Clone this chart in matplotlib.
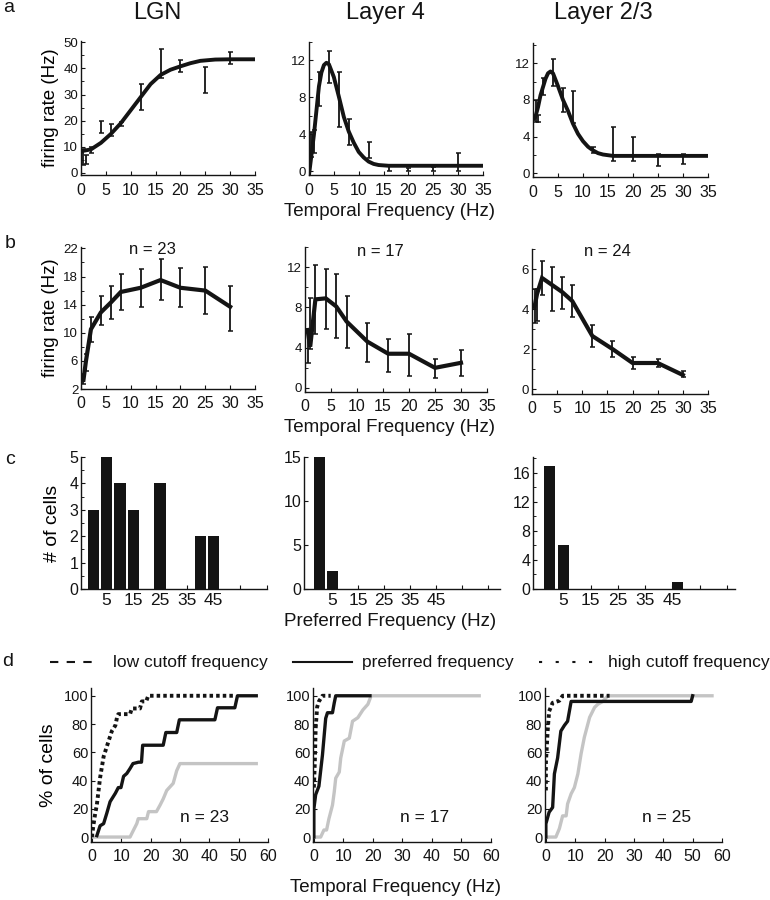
import numpy as np
import matplotlib
matplotlib.use("Agg")
import matplotlib.pyplot as plt
from matplotlib.lines import Line2D
from matplotlib.ticker import AutoMinorLocator

plt.rcParams['font.family'] = ['Liberation Sans', 'DejaVu Sans']

W, H = 770, 900
K = '#141414'
GRAY = '#c4c4c4'

# ---------------- data ----------------
areas = ['LGN', 'Layer 4', 'Layer 2/3']
freqs = [0.5, 1, 2, 4, 6, 8, 12, 16, 20, 25, 30]

# row a : fitted tuning curves of example cells
lgn_fit_x = [0, 2, 4, 6, 8, 10, 12, 14, 16, 18, 20, 22, 24, 27, 30, 35]
lgn_fit_y = [8.3, 9.0, 11.5, 14.9, 19.0, 24.0, 29.0, 34.0, 37.5, 39.5, 40.8, 42.0, 42.9, 43.4, 43.5, 43.5]
l4_fit_x = [0, 0.5, 1, 1.5, 2, 2.5, 3, 3.5, 4, 5, 6, 7, 8, 9, 10, 11, 12, 13, 14, 16, 35]
l4_fit_y = [-0.4, 1.8, 4.0, 6.6, 9.2, 10.7, 11.5, 11.75, 11.6, 10.2, 8.1, 5.9, 4.3, 3.1, 2.1, 1.5, 1.05, 0.8, 0.68, 0.6, 0.6]
l23_fit_x = [0, 0.5, 1, 1.5, 2, 2.5, 3, 3.5, 4, 5, 6, 7, 8, 9, 10, 11, 12, 13, 14, 16, 35]
l23_fit_y = [5.8, 6.2, 7.2, 8.5, 9.4, 10.3, 10.9, 11.1, 10.9, 9.5, 8.0, 6.8, 5.4, 4.3, 3.5, 2.9, 2.5, 2.2, 2.05, 1.9, 1.9]

lgn_a_lo = [3.0, 3.5, 7.8, 15.4, 14.3, 18.1, 24.1, 36.2, 38.8, 30.7, 41.6]
lgn_a_hi = [9.0, 7.0, 10.0, 20.0, 18.7, 19.6, 33.9, 47.4, 43.1, 40.7, 46.2]
l4_a_lo = [1.5, 2.0, 7.1, 9.6, 4.8, 2.8, 1.4, 0.0, 0.0, 0.0, 0.0]
l4_a_hi = [4.3, 4.5, 10.8, 13.0, 10.7, 5.7, 3.2, 0.6, 0.4, 0.5, 2.0]
l23_a_lo = [5.6, 5.6, 8.5, 9.5, 6.7, 5.5, 2.2, 1.3, 1.3, 0.8, 1.0]
l23_a_hi = [8.0, 6.4, 10.4, 12.5, 9.3, 9.0, 2.9, 5.1, 4.0, 2.1, 2.1]

# row b : population averages
lgn_b_mean = [3.3, 6.0, 10.5, 12.9, 14.3, 15.8, 16.4, 17.5, 16.4, 16.0, 13.7]
lgn_b_lo = [2.7, 4.5, 8.7, 11.1, 11.9, 13.3, 13.6, 14.6, 13.7, 12.7, 10.3]
lgn_b_hi = [4.2, 7.0, 12.2, 15.2, 16.6, 18.3, 19.1, 20.5, 19.2, 19.3, 16.6]
l4_b_mean = [5.75, 4.1, 8.8, 8.9, 8.1, 6.6, 4.6, 3.4, 3.4, 2.0, 2.5]
l4_b_lo = [2.45, 3.9, 5.4, 5.9, 5.0, 4.0, 2.6, 1.6, 1.2, 1.0, 1.2]
l4_b_hi = [5.75, 8.9, 12.2, 11.8, 11.3, 9.1, 6.5, 4.9, 5.4, 2.9, 3.8]
l23_b_mean = [4.1, 4.75, 5.55, 5.2, 4.85, 4.4, 2.65, 2.0, 1.3, 1.3, 0.7]
l23_b_lo = [3.3, 3.4, 4.7, 3.9, 4.0, 3.6, 2.1, 1.6, 1.0, 1.1, 0.6]
l23_b_hi = [5.0, 5.0, 6.4, 6.1, 5.6, 5.2, 3.2, 2.4, 1.6, 1.5, 0.9]
n_b = ['n = 23', 'n = 17', 'n = 24']

# row c : preferred frequency histograms
lgn_pref_bins = [0, 5, 10, 15, 25, 40, 45]
lgn_pref_counts = [3, 5, 4, 3, 4, 2, 2]
l4_pref_bins = [0, 5]
l4_pref_counts = [15, 2]
l23_pref_bins = [0, 5, 47]
l23_pref_counts = [17, 6, 1]

# row d : cumulative distributions (% of cells)
lgn_low_x = [0, 0.5, 1, 1.7, 2.8, 4, 5.7, 6.8, 8, 8.6, 9, 13, 13.6, 16.4, 17, 18.5, 19.2, 48.5]
lgn_low_y = [0, 8, 15, 23, 42, 57, 68, 75, 79, 85, 87, 87, 91, 91, 96, 96, 100, 100]
lgn_pref_x = [1.7, 2.8, 4, 5.1, 6.2, 8, 9, 9.9, 10.8, 11.9, 13, 14, 15.9, 16.9, 17.3, 24.3, 25.2, 28.9,
              29.8, 41.9, 42.8, 48.7, 49.6, 56]
lgn_pref_y = [1, 8, 9.5, 17, 25, 31, 35, 35, 43, 45, 48.5, 52, 53, 53, 65, 65, 74, 74,
              83, 83, 91.5, 91.5, 100, 100]
lgn_high_x = [0, 13, 14.2, 15.3, 15.8, 18.7, 19.3, 22, 23.2, 24.3, 25.5, 26.6, 27.7, 28.9, 30, 56]
lgn_high_y = [0, 0, 5, 9.5, 13, 13, 18, 18, 22.5, 27, 33, 35.5, 38, 47, 52, 52]

l4_low_x = [0, 0.3, 0.6, 1.1, 1.7, 2.9, 5.7]
l4_low_y = [35, 52, 77, 92, 96, 100, 100]
l4_pref_x = [0, 0, 0.6, 1.7, 2.9, 4, 4.6, 6.3, 6.9, 7.4, 19]
l4_pref_y = [0, 20, 30, 36, 58, 84, 88, 88, 95, 100, 100]
l4_high_x = [0, 2.3, 3.4, 4.3, 5.1, 6.3, 6.9, 7.4, 8.6, 9.1, 10.3, 12, 13.1, 14.9, 16.6, 18.3, 19.4, 56]
l4_high_y = [0, 0, 5, 5, 13, 22.6, 32, 41.7, 46, 56, 68, 70, 82, 84.5, 90, 94, 100, 100]

l23_low_x = [0, 0, 0.6, 1.1, 2.3, 4.6, 5.7, 21.7]
l23_low_y = [33, 52, 75, 89, 95, 96.5, 100, 100]
l23_pref_x = [0, 0, 1.1, 2.3, 2.9, 4, 5.1, 6.3, 7.4, 8.6, 49.5, 50]
l23_pref_y = [0, 9.4, 17.6, 21, 44.7, 56, 75, 79, 82, 96, 96, 100]
l23_high_x = [0, 3.4, 4.6, 5.7, 6.9, 7.4, 8.6, 9.7, 10.9, 12, 13.1, 14.9, 16.6, 17.7, 19.4, 21.1, 56.6]
l23_high_y = [0, 0, 6, 15, 15, 23.5, 30.6, 35, 44.7, 59, 70.6, 84.7, 91.8, 94, 96, 100, 100]
n_d = ['n = 23', 'n = 17', 'n = 25']

legend_labels = ['low cutoff frequency', 'preferred frequency', 'high cutoff frequency']

# ---------------- figure ----------------
fig = plt.figure(figsize=(W / 100, H / 100), dpi=100)


def make_ax(l, r, t, b):
    ax = fig.add_axes([l / W, 1 - b / H, (r - l) / W, (b - t) / H])
    ax.patch.set_alpha(0)
    for s in ('top', 'right'):
        ax.spines[s].set_visible(False)
    for s in ('left', 'bottom'):
        ax.spines[s].set_linewidth(1.0)
        ax.spines[s].set_color(K)
    ax.tick_params(direction='in', length=3, width=0.8, colors=K, pad=2)
    ax.tick_params(which='minor', direction='in', length=2, width=0.6)
    return ax


def ftext(x, y, s, **kw):
    kw.setdefault('ha', 'center')
    kw.setdefault('va', 'center')
    kw.setdefault('color', K)
    fig.text(x / W, 1 - y / H, s, **kw)


def ebar(ax, lo, hi):
    lo = np.array(lo)
    hi = np.array(hi)
    ax.errorbar(freqs, (lo + hi) / 2, yerr=(hi - lo) / 2, fmt='none', ecolor=K,
                elinewidth=1.3, capsize=1.8, capthick=1.1, zorder=2)


# ----- row a -----
boxes_a = [(81, 255, 41, 175), (309, 483, 42, 175), (533, 708, 43, 177)]
fits = [(lgn_fit_x, lgn_fit_y), (l4_fit_x, l4_fit_y), (l23_fit_x, l23_fit_y)]
errs_a = [(lgn_a_lo, lgn_a_hi), (l4_a_lo, l4_a_hi), (l23_a_lo, l23_a_hi)]
ylims_a = [(-0.8, 50.5), (-0.4, 14.0), (-0.4, 14.2)]
yticks_a = [[0, 10, 20, 30, 40, 50], [0, 4, 8, 12], [0, 4, 8, 12]]
for i in range(3):
    ax = make_ax(*boxes_a[i])
    ebar(ax, *errs_a[i])
    ax.plot(fits[i][0], fits[i][1], color=K, lw=2.8, solid_capstyle='butt', zorder=3)
    ax.set_xlim(0, 35)
    ax.set_ylim(*ylims_a[i])
    ax.set_xticks(range(0, 36, 5))
    ax.set_yticks(yticks_a[i])
    ax.yaxis.set_minor_locator(AutoMinorLocator(2))
    ax.tick_params(axis='x', labelsize=11.5, pad=6)
    ax.tick_params(axis='y', labelsize=9.5)
    if i == 0:
        ax.set_ylabel('firing rate (Hz)', fontsize=13.5, labelpad=3)

ftext(157, 13, 'LGN', fontsize=17)
ftext(385, 13, 'Layer 4', fontsize=17)
ftext(603, 13, 'Layer 2/3', fontsize=17)
ftext(9, 8, 'a', fontsize=14)
ftext(389, 212, 'Temporal Frequency (Hz)', fontsize=13.5)

# ----- row b -----
boxes_b = [(81, 255, 247, 389), (305, 487, 247, 392), (532, 708, 249, 394)]
means_b = [lgn_b_mean, l4_b_mean, l23_b_mean]
errs_b = [(lgn_b_lo, lgn_b_hi), (l4_b_lo, l4_b_hi), (l23_b_lo, l23_b_hi)]
ylims_b = [(2, 22.2), (-0.4, 14.0), (-0.25, 7.0)]
yticks_b = [[2, 6, 10, 14, 18, 22], [0, 4, 8, 12], [0, 2, 4, 6]]
for i in range(3):
    ax = make_ax(*boxes_b[i])
    ebar(ax, *errs_b[i])
    ax.plot(freqs, means_b[i], color=K, lw=3, solid_joinstyle='miter', zorder=3)
    ax.set_xlim(0, 35)
    ax.set_ylim(*ylims_b[i])
    ax.set_xticks(range(0, 36, 5))
    ax.set_yticks(yticks_b[i])
    ax.yaxis.set_minor_locator(AutoMinorLocator(2))
    ax.tick_params(axis='x', labelsize=11.5, pad=5)
    ax.tick_params(axis='y', labelsize=9.5)
    if i == 0:
        ax.set_ylabel('firing rate (Hz)', fontsize=13.5, labelpad=3)

ftext(152, 249, n_b[0], fontsize=12)
ftext(380, 251, n_b[1], fontsize=12)
ftext(607, 251, n_b[2], fontsize=12)
ftext(10, 243, 'b', fontsize=14)
ftext(390, 428, 'Temporal Frequency (Hz)', fontsize=13.5)

# ----- row c -----
boxes_c = [(81, 267, 457, 589), (304, 500, 457, 589), (533, 735, 457, 589)]
bins_c = [(lgn_pref_bins, lgn_pref_counts), (l4_pref_bins, l4_pref_counts), (l23_pref_bins, l23_pref_counts)]
xlims_c = [(-4.6, 64.7), (-5.8, 69.6), (-6.1, 68)]
ylims_c = [(0, 5), (0, 15), (0, 18.2)]
yticks_c = [[0, 1, 2, 3, 4, 5], [0, 5, 10, 15], [0, 4, 8, 12, 16]]
for i in range(3):
    ax = make_ax(*boxes_c[i])
    ax.bar(bins_c[i][0], bins_c[i][1], width=4.2, color=K, edgecolor='none', zorder=3)
    ax.set_xlim(*xlims_c[i])
    ax.set_ylim(*ylims_c[i])
    ax.set_xticks([5, 15, 25, 35, 45, 55, 65])
    ax.set_xticklabels(['5', '15', '25', '35', '45', '', ''])
    ax.set_yticks(yticks_c[i])
    if i != 1:
        ax.yaxis.set_minor_locator(AutoMinorLocator(2))
    ax.tick_params(axis='x', labelsize=12.5, pad=3)
    ax.tick_params(axis='y', labelsize=11.5)
    if i == 0:
        ax.set_ylabel('# of cells', fontsize=14, labelpad=6)

ftext(10, 460, 'c', fontsize=14)
ftext(390, 622, 'Preferred Frequency (Hz)', fontsize=13.5)

# ----- row d -----
boxes_d = [(91, 268, 688, 842), (313, 491, 688, 842), (545, 722, 688, 842)]
curves_d = [
    ((lgn_high_x, lgn_high_y), (lgn_pref_x, lgn_pref_y), (lgn_low_x, lgn_low_y)),
    ((l4_high_x, l4_high_y), (l4_pref_x, l4_pref_y), (l4_low_x, l4_low_y)),
    ((l23_high_x, l23_high_y), (l23_pref_x, l23_pref_y), (l23_low_x, l23_low_y)),
]
n_pos = [(205, 818), (425, 818), (667, 818)]
for i in range(3):
    ax = make_ax(*boxes_d[i])
    hi_c, pr_c, lo_c = curves_d[i]
    ax.plot(hi_c[0], hi_c[1], color=GRAY, lw=2.4, zorder=2)
    ax.plot(pr_c[0], pr_c[1], color=K, lw=2.4, zorder=3)
    ax.plot(lo_c[0], lo_c[1], color=K, lw=2.8, linestyle=(0, (0.9, 0.8)), zorder=4)
    ax.set_xlim(-0.3, 60)
    ax.set_ylim(-3.5, 105.5)
    ax.set_xticks(range(0, 61, 10))
    ax.set_yticks(range(0, 101, 20))
    ax.tick_params(axis='x', labelsize=11.5, pad=5)
    ax.tick_params(axis='y', labelsize=10.5)
    if i == 0:
        ax.set_ylabel('% of cells', fontsize=14, labelpad=5)
    ftext(n_pos[i][0], n_pos[i][1], n_d[i], fontsize=12.5)

ftext(8, 662, 'd', fontsize=14)
ftext(395, 888, 'Temporal Frequency (Hz)', fontsize=13.5)

# legend of row d
yl = 1 - 662 / H
fig.add_artist(Line2D([50 / W, 99 / W], [yl, yl], transform=fig.transFigure, color=K,
                      lw=1.5, linestyle=(0, (4, 4))))
fig.add_artist(Line2D([293 / W, 352 / W], [yl, yl], transform=fig.transFigure, color=K, lw=1.5))
fig.add_artist(Line2D([539 / W, 593 / W], [yl, yl], transform=fig.transFigure, color=K,
                      lw=1.5, linestyle=(0, (1.5, 6.5))))
ftext(113, 662, legend_labels[0], fontsize=12.5, ha='left')
ftext(362, 662, legend_labels[1], fontsize=12.5, ha='left')
ftext(608, 662, legend_labels[2], fontsize=12.5, ha='left')

fig.savefig('out.png', dpi=100, facecolor='white')
